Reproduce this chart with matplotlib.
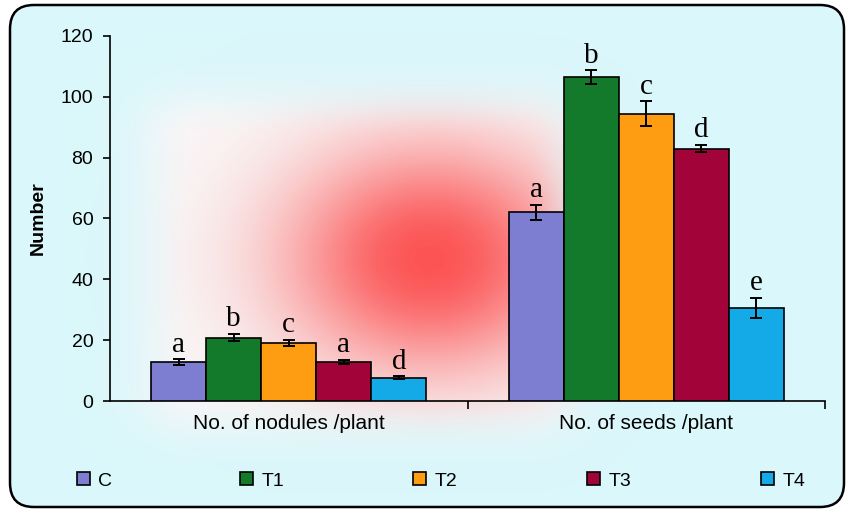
import numpy as np
import matplotlib
matplotlib.use("Agg")
import matplotlib.pyplot as plt
from matplotlib.patches import FancyBboxPatch

# -----------------------------
# Data
# -----------------------------
categories = ["No. of nodules /plant", "No. of seeds /plant"]
treatments = ["C", "T1", "T2", "T3", "T4"]
values = {
    "C":  [12.7, 62.0],
    "T1": [20.8, 106.5],
    "T2": [19.0, 94.5],
    "T3": [12.8, 83.0],
    "T4": [7.6, 30.5],
}
errors = {
    "C":  [1.0, 2.5],
    "T1": [1.2, 2.2],
    "T2": [1.0, 4.0],
    "T3": [0.6, 1.3],
    "T4": [0.5, 3.3],
}
letters = {
    "C":  ["a", "a"],
    "T1": ["b", "b"],
    "T2": ["c", "c"],
    "T3": ["a", "d"],
    "T4": ["d", "e"],
}
yticks = [0, 20, 40, 60, 80, 100, 120]

colors = {
    "C": "#7D7DD2",
    "T1": "#137A2C",
    "T2": "#FF9D12",
    "T3": "#A2043A",
    "T4": "#14AAE8",
}

SANS = "Liberation Sans"

# -----------------------------
# Figure & background
# -----------------------------
W, H = 847, 511
fig = plt.figure(figsize=(W / 100, H / 100), dpi=100)
fig.patch.set_facecolor("white")

bg = fig.add_axes([0, 0, 1, 1], zorder=0)
bg.axis("off")

box = FancyBboxPatch((10, 5), W - 13, H - 9,
                     boxstyle="round,pad=0,rounding_size=24",
                     facecolor="#DAF7FB", edgecolor="black", linewidth=1.8,
                     transform=bg.transData, zorder=0)
bg.add_patch(box)

# pinkish haze with a red core, composed into one layer
gx, gy = np.meshgrid(np.arange(W), np.arange(H))
hx = np.clip(np.abs(gx - 360) - 165, 0, None) / 55.0
hy = np.clip(np.abs(gy - 262) - 125, 0, None) / 45.0
haze_a = np.exp(-(hx ** 2 + hy ** 2))

rx = (gx - 430) / 150.0
ry = (gy - 258) / 115.0
core = np.exp(-(rx ** 2 + ry ** 2) ** 1.1)

glow = np.zeros((H, W, 4))
glow[..., 0] = 1.0
glow[..., 1] = 0.97 - 0.69 * core
glow[..., 2] = 0.97 - 0.69 * core
glow[..., 3] = haze_a * (0.85 + 0.08 * core)

bg.imshow(glow, extent=(0, W, H, 0), zorder=1, interpolation="bilinear")
bg.set_xlim(0, W)
bg.set_ylim(H, 0)

# -----------------------------
# Bars
# -----------------------------
ax = fig.add_axes([110 / W, 1 - 401 / H, 715 / W, 365 / H], zorder=2)
ax.patch.set_alpha(0)

x = np.arange(len(categories))
bw = 0.154
for i, t in enumerate(treatments):
    pos = x + (i - 2) * bw
    ax.bar(pos, values[t], width=bw, color=colors[t], edgecolor="black",
           linewidth=1.2, label=t, zorder=3)
    ax.errorbar(pos, values[t], yerr=errors[t], fmt="none", ecolor="black",
                elinewidth=1.4, capsize=4.6, capthick=1.4, zorder=4)
    for p, v, e, l in zip(pos, values[t], errors[t], letters[t]):
        ax.text(p, v + e + 0.6, l, ha="center", va="bottom",
                family="Liberation Serif", fontsize=21, zorder=5)

ax.set_xlim(-0.5, 1.5)
ax.set_ylim(0, 120)
ax.set_yticks(yticks)
ax.set_yticklabels([str(v) for v in yticks], family=SANS, fontsize=14)
ax.set_xticks([0.5, 1.5])
ax.set_xticklabels([])
ax.set_xticks(x, minor=True)
ax.set_xticklabels(categories, minor=True, family=SANS, fontsize=15)
ax.tick_params(axis="x", which="minor", length=0, pad=9)
ax.tick_params(axis="x", which="major", direction="out", length=6, width=1.2)
ax.tick_params(axis="y", direction="out", length=5, width=1.2, pad=7)
for s in ["top", "right"]:
    ax.spines[s].set_visible(False)
for s in ["left", "bottom"]:
    ax.spines[s].set_linewidth(1.2)
ax.set_ylabel("Number", family=SANS, fontweight="bold",
              fontsize=14, labelpad=10)

# legend: one entry per slot, evenly spread along the bottom
handles, labels = ax.get_legend_handles_labels()
slot_left = [77, 240, 413, 587, 761]
for h, l, xl in zip(handles, labels, slot_left):
    fig.legend([h], [l], loc="center left", bbox_to_anchor=(xl / W, 1 - 481 / H),
               frameon=False, borderpad=0, borderaxespad=0,
               handlelength=0.65, handleheight=0.65, handletextpad=0.45,
               prop={"family": SANS, "size": 14})

fig.savefig("out.png", dpi=100)
